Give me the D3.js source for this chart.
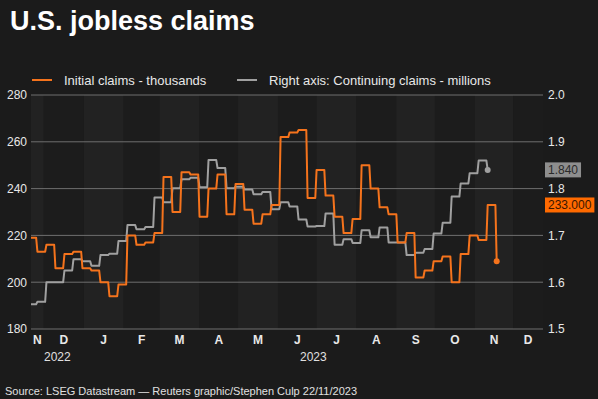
<!DOCTYPE html>
<meta charset="utf-8">
<style>
  body { margin: 0; background: #1b1b1b; }
  svg { display: block; font-family: "Liberation Sans", Arial, sans-serif; }
</style>
<script src="https://d3js.org/d3.v7.min.js"></script>
<div id="chart"></div>
<script>
  // weekly data, first week ending 19 Nov 2022
  var firstWeek = new Date(2022, 10, 19);
  var initialClaims = [219, 213, 216, 206, 212, 213, 206, 205, 200, 194, 199, 220, 216, 217, 221,
    245, 230, 247, 246, 228, 240, 246, 229, 242, 231, 225, 229, 233, 262, 264, 265, 236, 248,
    237, 228, 221, 227, 250, 240, 232, 229, 217, 221, 202, 205, 209, 211, 200, 212, 220, 218, 233, 209];
  var continuingClaims = [1.553, 1.558, 1.600, 1.600, 1.625, 1.649, 1.645, 1.635, 1.658, 1.661, 1.688,
    1.722, 1.713, 1.718, 1.781, 1.771, 1.801, 1.820, 1.823, 1.803, 1.861, 1.844, 1.801, 1.804, 1.798,
    1.788, 1.793, 1.756, 1.771, 1.762, 1.734, 1.719, 1.720, 1.747, 1.680, 1.692, 1.684, 1.711, 1.696,
    1.717, 1.685, 1.685, 1.658, 1.663, 1.671, 1.704, 1.727, 1.783, 1.811, 1.833, 1.860, 1.840];
  var leftTicks = [180, 200, 220, 240, 260, 280];
  var rightTicks = [1.5, 1.6, 1.7, 1.8, 1.9, 2.0];
  var initialLabel = "233.000";
  var continuingLabel = "1.840";

  var width = 598, height = 399;
  var plotL = 31, plotR = 543, plotT = 95, plotB = 329;
  var orange = "#f5731c", grey = "#a0a0a0";

  var svg = d3.select("#chart").append("svg")
    .attr("width", width)
    .attr("height", height);

  var x = d3.scaleTime()
    .domain([new Date(2022, 10, 21), new Date(2023, 11, 24)])
    .range([plotL, plotR]);
  var yLeft = d3.scaleLinear().domain([180, 280]).range([plotB, plotT]);
  var yRight = d3.scaleLinear().domain([1.5, 2.0]).range([plotB, plotT]);

  svg.append("text")
    .attr("x", 10).attr("y", 30)
    .attr("fill", "#ffffff")
    .style("font-size", "27px").style("font-weight", "bold")
    .text("U.S. jobless claims");

  // month bands
  var months = d3.timeMonth.range(d3.timeMonth.floor(x.domain()[0]), x.domain()[1]);
  var monthSpans = months.map(function (m) {
    var x0 = Math.max(plotL, x(m)), x1 = Math.min(plotR, x(d3.timeMonth.offset(m, 1)));
    return { date: m, x0: x0, x1: x1 };
  });
  svg.selectAll("rect.band")
    .data(monthSpans)
    .enter().append("rect")
    .attr("x", function (d) { return d.x0; })
    .attr("width", function (d) { return d.x1 - d.x0; })
    .attr("y", plotT).attr("height", plotB - plotT)
    .attr("fill", function (d) { return d.date.getMonth() % 2 == 0 ? "#222222" : "#1c1c1c"; });

  svg.selectAll("line.grid")
    .data(leftTicks)
    .enter().append("line")
    .attr("x1", plotL).attr("x2", plotR)
    .attr("y1", function (d) { return yLeft(d); })
    .attr("y2", function (d) { return yLeft(d); })
    .attr("stroke", "#6e6e6e").attr("stroke-width", 1);

  var axisL = svg.append("g")
    .attr("transform", "translate(" + plotL + ",0)")
    .call(d3.axisLeft(yLeft).tickValues(leftTicks).tickSize(0).tickPadding(4));
  var axisR = svg.append("g")
    .attr("transform", "translate(" + plotR + ",0)")
    .call(d3.axisRight(yRight).tickValues(rightTicks).tickSize(0).tickPadding(5).tickFormat(d3.format(".1f")));
  [axisL, axisR].forEach(function (a) {
    a.select(".domain").remove();
    a.selectAll("text").attr("fill", "#e8e8e8").style("font-size", "12px")
      .style("font-family", "Liberation Sans, Arial, sans-serif");
  });

  // month and year labels
  svg.selectAll("text.month")
    .data(monthSpans)
    .enter().append("text")
    .attr("x", function (d) { return (d.x0 + d.x1) / 2; })
    .attr("y", 344)
    .attr("text-anchor", "middle")
    .attr("fill", "#e8e8e8")
    .style("font-size", "12px").style("font-weight", "bold")
    .text(function (d) { return d3.timeFormat("%b")(d.date).charAt(0); });

  var years = [new Date(2022, 0, 1), new Date(2023, 0, 1)];
  svg.selectAll("text.year")
    .data(years)
    .enter().append("text")
    .attr("x", function (d) {
      var x0 = Math.max(plotL, x(d)), x1 = Math.min(plotR, x(d3.timeYear.offset(d, 1)));
      return (x0 + x1) / 2;
    })
    .attr("y", 361)
    .attr("text-anchor", "middle")
    .attr("fill", "#e0e0e0")
    .style("font-size", "12px")
    .text(function (d) { return d.getFullYear(); });

  // legend
  var legend = [
    { label: "Initial claims - thousands", color: orange, x: 32 },
    { label: "Right axis: Continuing claims - millions", color: grey, x: 237 }
  ];
  legend.forEach(function (l) {
    svg.append("line")
      .attr("x1", l.x).attr("x2", l.x + 20)
      .attr("y1", 80).attr("y2", 80)
      .attr("stroke", l.color).attr("stroke-width", 2);
    svg.append("text")
      .attr("x", l.x + 32).attr("y", 85)
      .attr("fill", "#e8e8e8")
      .style("font-size", "13px")
      .text(l.label);
  });

  // each weekly value is held for 6 days, then moves to the next one
  function stepPoints(values) {
    var pts = [];
    values.forEach(function (v, i) {
      var d = d3.timeWeek.offset(firstWeek, i);
      pts.push([d, v]);
      if (i < values.length - 1) pts.push([d3.timeDay.offset(d, 6), v]);
    });
    return pts;
  }

  svg.append("clipPath").attr("id", "plot")
    .append("rect")
    .attr("x", plotL).attr("y", plotT - 5)
    .attr("width", plotR - plotL + 5).attr("height", plotB - plotT + 10);

  var lineL = d3.line()
    .x(function (d) { return x(d[0]); })
    .y(function (d) { return yLeft(d[1]); });
  var lineR = d3.line()
    .x(function (d) { return x(d[0]); })
    .y(function (d) { return yRight(d[1]); });

  var plot = svg.append("g").attr("clip-path", "url(#plot)");

  plot.append("path")
    .attr("d", lineR(stepPoints(continuingClaims)))
    .attr("fill", "none").attr("stroke", grey).attr("stroke-width", 2)
    .attr("stroke-linejoin", "round");
  plot.append("path")
    .attr("d", lineL(stepPoints(initialClaims)))
    .attr("fill", "none").attr("stroke", orange).attr("stroke-width", 2)
    .attr("stroke-linejoin", "round");

  var lastC = continuingClaims.length - 1, lastI = initialClaims.length - 1;
  plot.append("circle")
    .attr("cx", x(d3.timeWeek.offset(firstWeek, lastC)))
    .attr("cy", yRight(continuingClaims[lastC]))
    .attr("r", 3).attr("fill", grey);
  plot.append("circle")
    .attr("cx", x(d3.timeWeek.offset(firstWeek, lastI)))
    .attr("cy", yLeft(initialClaims[lastI]))
    .attr("r", 3).attr("fill", orange);

  // end value tags
  var tags = [
    { text: continuingLabel, y: yRight(+continuingLabel), fill: "#8e8e8e", color: "#2a2a2a" },
    { text: initialLabel, y: yLeft(parseFloat(initialLabel)), fill: "#ff6a00", color: "#3a1600" }
  ];
  tags.forEach(function (t) {
    var g = svg.append("g").attr("transform", "translate(545," + t.y + ")");
    var label = g.append("text")
      .attr("x", 3).attr("y", 4.5)
      .attr("fill", t.color)
      .style("font-size", "12px")
      .text(t.text);
    var w = label.node().getComputedTextLength();
    g.insert("rect", "text")
      .attr("x", 0).attr("y", -7.5)
      .attr("width", w + 6).attr("height", 15)
      .attr("fill", t.fill);
  });

  svg.append("text")
    .attr("x", 5).attr("y", 395)
    .attr("fill", "#e0e0e0")
    .style("font-size", "11px")
    .text("Source: LSEG Datastream \u2014 Reuters graphic/Stephen Culp 22/11/2023");
</script>
